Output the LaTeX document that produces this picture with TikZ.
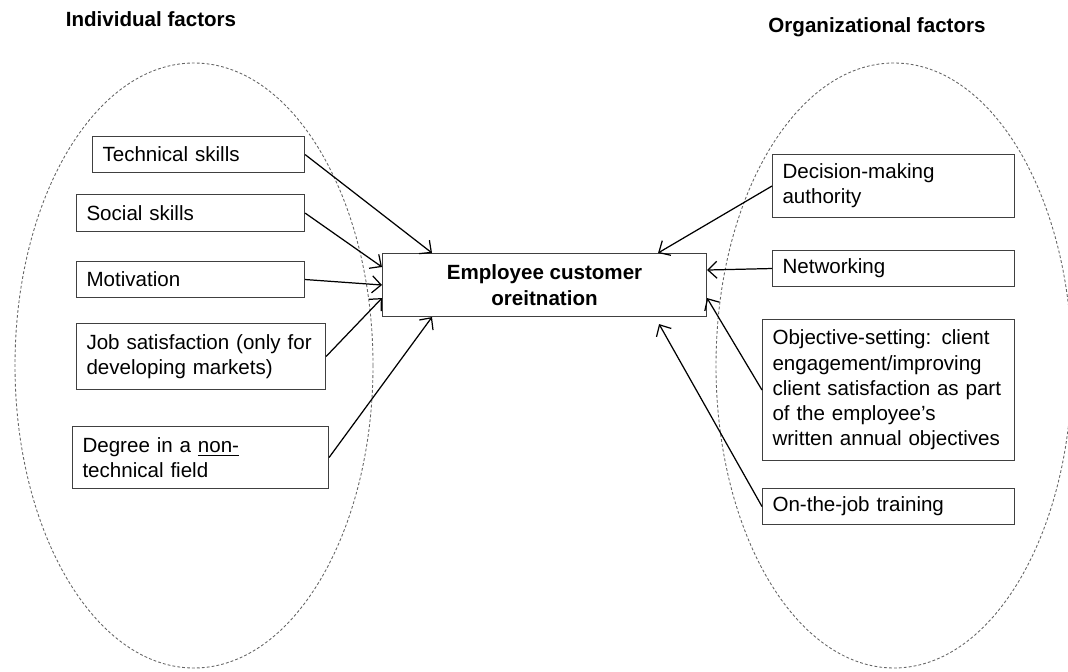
\documentclass[tikz,border=0pt]{standalone}
\usepackage{fontspec}
\setmainfont{Liberation Sans}
\usepackage{tikz}
\usetikzlibrary{arrows.meta}
\tikzstyle{factor}=[draw=black!75, line width=0.6pt, fill=white,% plain text box, text on the left
inner xsep=0.2cm, inner ysep=0pt, align=left,
font=\fontsize{11.7}{14.4}\selectfont]
\tikzstyle{core}=[draw=black!75, line width=0.6pt, fill=white, align=center,
font=\fontsize{11.7}{14.4}\selectfont\bfseries]
\tikzstyle{group}=[draw=black!60, line width=0.5pt, dash pattern=on 1.6pt off 1.2pt]
\tikzstyle{infl}=[-{Straight Barb[length=1.8mm,width=3.4mm]}, line width=0.7pt]
\tikzstyle{head}=[font=\fontsize{11.7}{14.4}\selectfont\bfseries]

\begin{document}
\begin{tikzpicture}
\useasboundingbox (0,0) rectangle (21.36,13.42);
% the two groups of factors
\draw[group] (3.88,6.11) ellipse (3.58cm and 6.05cm);
\draw[group] (17.88,6.11) ellipse (3.56cm and 6.05cm);
\node[head] (ihead) at (3.02,13.04) {Individual factors};
\node[head] (ohead) at (17.54,12.88) {Organizational factors};

\node[core, minimum width=6.48cm, minimum height=1.26cm, anchor=north west] (eco) at (7.64,8.36) {Employee customer\\oreitnation};

% individual factors
\node[factor, text width=3.84cm, minimum height=0.72cm, anchor=north west] (i1) at (1.84,10.70) {Technical skills};
\node[factor, text width=4.16cm, minimum height=0.74cm, anchor=north west] (i2) at (1.52,9.54) {Social skills};
\node[factor, text width=4.16cm, minimum height=0.72cm, anchor=north west] (i3) at (1.52,8.20) {Motivation};
\node[factor, text width=4.58cm, minimum height=1.32cm, anchor=north west] (i4) at (1.52,6.96) {Job satisfaction (only for\\developing markets)};
\node[factor, text width=4.72cm, minimum height=1.24cm, anchor=north west] (i5) at (1.44,4.90) {Degree in a \underline{non-}\\technical field};

% organizational factors
\node[factor, text width=4.44cm, minimum height=1.26cm, anchor=north west] (o1) at (15.44,10.34) {Decision-making\\authority};
\node[factor, text width=4.44cm, minimum height=0.72cm, anchor=north west] (o2) at (15.44,8.42) {Networking};
\node[factor, text width=4.64cm, minimum height=2.82cm, anchor=north west] (o3) at (15.24,7.04) {Objective-setting: client\\engagement/improving\\client satisfaction as part\\of the employee’s\\written annual objectives};
\node[factor, text width=4.64cm, minimum height=0.72cm, anchor=north west] (o4) at (15.24,3.66) {On-the-job training};

\draw[infl] (i1.east) -- ([xshift=1cm]eco.north west);
\draw[infl] (i2.east) -- ([yshift=-0.28cm]eco.north west);
\draw[infl] (i3.east) -- (eco.west);
\draw[infl] (i4.east) -- ([yshift=0.38cm]eco.south west);
\draw[infl] (i5.east) -- ([xshift=1cm]eco.south west);

\draw[infl] (o1.west) -- ([xshift=-0.98cm]eco.north east);
\draw[infl] (o2.west) -- ([yshift=0.3cm]eco.east);
\draw[infl] (o3.west) -- ([yshift=0.38cm]eco.south east);
\draw[infl] (o4.west) -- ([xshift=-0.96cm,yshift=-0.14cm]eco.south east);
\end{tikzpicture}
\end{document}
